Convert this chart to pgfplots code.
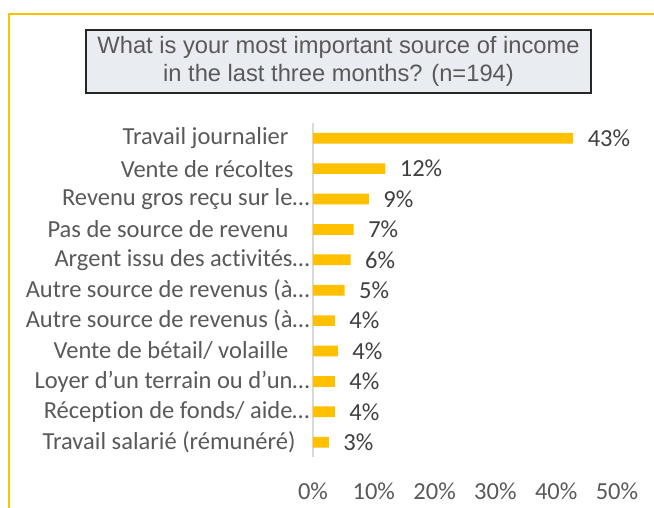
\documentclass[border=0pt]{standalone}
\usepackage{fontspec}
\setmainfont{Carlito}[Ligatures=NoCommon]
\newfontfamily\arialfont{Liberation Sans}
\usepackage{pgfplots}
\pgfplotsset{compat=1.18}

\definecolor{gold}{HTML}{FFC000}
\definecolor{txtgray}{HTML}{595959}
\definecolor{valgray}{HTML}{404040}
\definecolor{boxfill}{HTML}{E9ECF1}
\definecolor{axisgray}{HTML}{D9D9D9}

\begin{document}
\begin{tikzpicture}
\useasboundingbox (0,0) rectangle (654pt,-508pt);
% outer frame (top and left only)
\draw[gold, line width=2pt] (9pt,-508pt) -- (9pt,-14pt) -- (654pt,-14pt);
% title box
\draw[fill=boxfill, draw=black!85, line width=1.4pt] (86pt,-30pt) rectangle (591pt,-93pt);
\node[align=center, text=txtgray, font=\arialfont\fontsize{23.7}{28}\selectfont, inner sep=0pt]
  at (338.5pt,-61pt) {What is your most important source of income\\in the last three months? (n=194)};

\begin{axis}[
    at={(313pt,-123pt)}, anchor=north west,
    scale only axis, width=304pt, height=334.4pt,
    xmin=0, xmax=50, ymin=-0.5, ymax=10.5,
    y dir=reverse,
    xbar, bar width=10.7pt, bar shift=0pt,
    axis x line*=bottom, axis y line*=left,
    x axis line style={draw=none},
    y axis line style={draw=axisgray, line width=1.6pt, -},
    major tick length=0pt,
    xtick={0,10,20,30,40,50},
    xticklabel={\pgfmathprintnumber{\tick}\%},
    xticklabel style={anchor=base, yshift=-42pt},
    ytick={0,1,2,3,4,5,6,7,8,9,10},
    yticklabels={
      {Travail journalier\hspace*{21pt}},
      {Vente de récoltes\hspace*{16pt}},
      {Revenu gros reçu sur le…},
      {Pas de source de revenu\hspace*{21pt}},
      {Argent issu des activités…},
      {Autre source de revenus (à…},
      {Autre source de revenus (à…},
      {Vente de bétail/ volaille\hspace*{21pt}},
      {Loyer d’un terrain ou d’un…},
      {Réception de fonds/ aide…},
      {Travail salarié (rémunéré)\hspace*{14pt}}},
    tick label style={font=\fontsize{24.5}{29}\selectfont, text=txtgray},
    /pgf/number format/assume math mode=true,
    point meta=explicit symbolic,
    nodes near coords={\pgfplotspointmeta},
    nodes near coords style={anchor=west, xshift=11pt, text=valgray,
        font=\fontsize{24.5}{29}\selectfont},
    clip=false,
]
\addplot[fill=gold, draw=none] coordinates {
    (42.8,0) [43\%]
    (11.9,1) [12\%]
    (9.2,2) [9\%]
    (6.7,3) [7\%]
    (6.2,4) [6\%]
    (5.2,5) [5\%]
    (3.6,6) [4\%]
    (4.1,7) [4\%]
    (3.6,8) [4\%]
    (3.6,9) [4\%]
    (2.6,10) [3\%]
};
\end{axis}
\end{tikzpicture}
\end{document}
